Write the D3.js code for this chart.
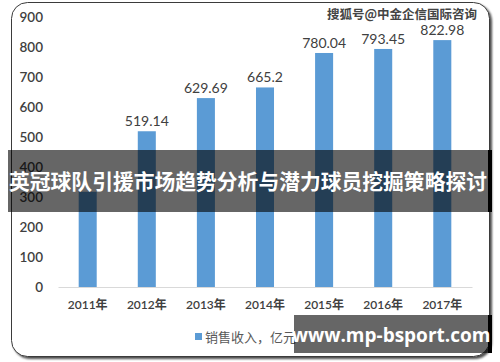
<!DOCTYPE html>
<html><head><meta charset="utf-8">
<script src="https://cdn.jsdelivr.net/npm/d3@7"></script>
<style>
html,body{margin:0;padding:0;background:#fff;}
svg{display:block;}
</style></head>
<body>
<script>
const categories = ["2011年","2012年","2013年","2014年","2015年","2016年","2017年"];
const values = [317.5, 519.14, 629.69, 665.2, 780.04, 793.45, 822.98];
// 2011 label is hidden behind the title banner in the reference
const valueLabels = ["", "519.14","629.69","665.2","780.04","793.45","822.98"];
const yTicks = [0,100,200,300,400,500,600,700,800,900];
const legendLabel = "销售收入，亿元";
const titleText = "英冠球队引援市场趋势分析与潜力球员挖掘策略探讨";
const watermarkTop = "搜狐号@中金企信国际咨询";
const watermarkBottom = "www.mp-bsport.com";

const W = 500, H = 362;
const svg = d3.select("body").append("svg").attr("width", W).attr("height", H);

const defs = svg.append("defs");
const f = defs.append("filter").attr("id","sh").attr("x","-5%").attr("y","-5%").attr("width","110%").attr("height","110%");
f.append("feDropShadow").attr("dx",2).attr("dy",2).attr("stdDeviation",1).attr("flood-color","#000").attr("flood-opacity",0.7);

// outer frame
svg.append("rect").attr("x",11.5).attr("y",2.5).attr("width",478).attr("height",354)
  .attr("rx",16).attr("fill","#fff").attr("stroke","#3a3a3a").attr("stroke-width",1)
  .attr("filter","url(#sh)");

const x = d3.scaleBand().domain(categories).range([58, 472]).paddingInner(0.695).paddingOuter(0.35);
const y = d3.scaleLinear().domain([0, 900]).range([287, 17]);

// y axis labels
const yAxis = d3.axisLeft(y).tickValues(yTicks).tickSize(0).tickPadding(0);
const gy = svg.append("g").attr("transform","translate(43,0)").call(yAxis);
gy.select(".domain").remove();
gy.selectAll("text").attr("font-family","Lato, 'Open Sans', sans-serif").attr("font-size",13.5)
  .attr("font-weight",600).attr("fill","#404040");

// x axis
const xAxis = d3.axisBottom(x).tickSize(0).tickPadding(13);
const gx = svg.append("g").attr("transform","translate(0,287)").call(xAxis);
gx.select(".domain").attr("stroke","#d9d9d9").attr("stroke-width",1.2);
gx.selectAll("text").attr("font-family","Lato, 'Noto Sans CJK SC', sans-serif").attr("font-size",12)
  .attr("font-weight",600).attr("fill","#404040");

// bars
svg.append("g").selectAll("rect").data(values).join("rect")
  .attr("x",(d,i)=>x(categories[i]))
  .attr("y",d=>y(d))
  .attr("width",x.bandwidth())
  .attr("height",d=>y(0)-y(d))
  .attr("fill","#5b9bd5");

// data labels
svg.append("g").selectAll("text").data(values.filter((d,i)=>valueLabels[i])).join("text")
  .attr("x",d=>{const i=values.indexOf(d);return x(categories[i])+x.bandwidth()/2;})
  .attr("y",d=>y(d)-5)
  .attr("text-anchor","middle")
  .attr("font-family","Lato, 'Open Sans', sans-serif").attr("font-size",14)
  .attr("fill","#404040")
  .text(d=>valueLabels[values.indexOf(d)]);

// legend
svg.append("rect").attr("x",195).attr("y",333).attr("width",7).attr("height",7).attr("fill","#5b9bd5");
svg.append("text").attr("x",205).attr("y",342).attr("font-family","'Noto Sans CJK SC', sans-serif")
  .attr("font-size",13).attr("fill","#595959").text(legendLabel);

// top watermark
svg.append("text").attr("x",477).attr("y",18.5).attr("text-anchor","end")
  .attr("font-family","'Noto Sans CJK SC', sans-serif").attr("font-size",12.5).attr("font-weight",700)
  .attr("fill","#444").attr("stroke","#fff").attr("stroke-width",0.6).attr("paint-order","stroke")
  .text(watermarkTop);

// title banner
svg.append("rect").attr("x",488).attr("y",150).attr("width",4).attr("height",62).attr("fill","#000");
svg.append("rect").attr("x",8).attr("y",150).attr("width",481).attr("height",62).attr("fill","rgba(0,0,0,0.6)");
svg.append("text").attr("x",248).attr("y",189).attr("text-anchor","middle")
  .attr("font-family","'Noto Sans CJK SC', sans-serif").attr("font-size",21).attr("font-weight",700)
  .attr("textLength",478).attr("lengthAdjust","spacingAndGlyphs")
  .attr("fill","#fff").text(titleText);

// bottom watermark box
svg.append("rect").attr("x",488).attr("y",315).attr("width",4).attr("height",38).attr("fill","#000");
svg.append("rect").attr("x",294).attr("y",315).attr("width",195).attr("height",38).attr("fill","rgba(0,0,0,0.6)");
svg.append("text").attr("x",391).attr("y",342).attr("text-anchor","middle")
  .attr("font-family","'Open Sans', 'DejaVu Sans', sans-serif").attr("font-size",19).attr("font-weight",700)
  .attr("fill","#fff").text(watermarkBottom);
</script>
</body></html>
